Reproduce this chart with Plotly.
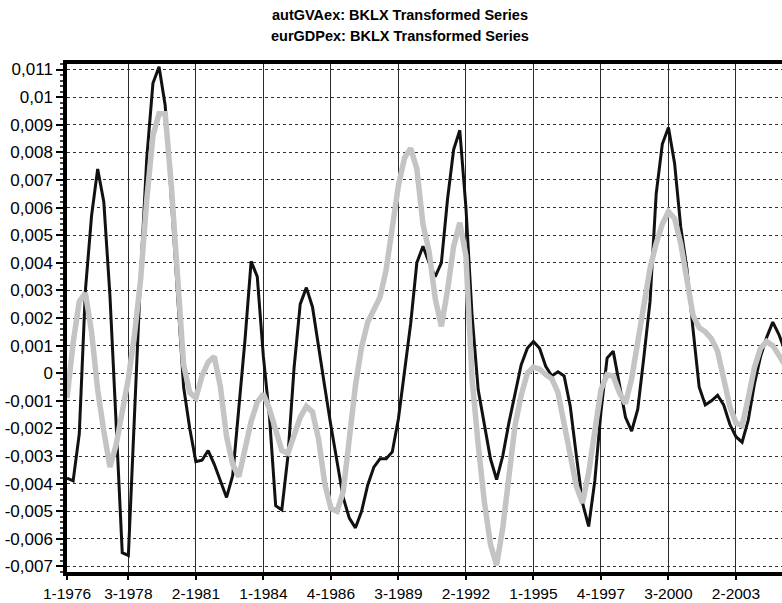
import plotly.graph_objects as go

# quarterly observations, first one is 1976 Q1
start_year = 1976
n_obs = 118
quarters = [f"{q % 4 + 1}-{start_year + q // 4}" for q in range(n_obs)]

# autGVAex (black line), units of 1e-3
aut_gva = [
    -3.8, -3.9, -2.2, 3.0, 5.7, 7.4, 6.2, 2.8, -1.8, -6.5,
    -6.6, -1.3, 3.6, 7.8, 10.5, 11.1, 9.7, 6.3, 2.9, -0.5,
    -2.0, -3.2, -3.15, -2.8, -3.3, -3.9, -4.5, -3.7, -1.2, 1.2,
    4.05, 3.5, 0.6, -1.6, -4.8, -4.95, -3.0, 0.2, 2.5, 3.1,
    2.4, 0.9, -0.5, -1.9, -3.2, -4.5, -5.25, -5.6, -5.0, -4.05,
    -3.4, -3.1, -3.1, -2.85, -1.65, 0.0, 1.8, 4.0, 4.6, 4.0,
    3.5, 4.0, 6.3, 8.1, 8.8, 6.0, 2.1, -0.6, -1.9, -3.1,
    -3.85, -3.0, -1.8, -0.7, 0.3, 0.9, 1.15, 0.9, 0.25, -0.1,
    0.05, -0.1, -1.2, -3.0, -4.7, -5.55, -3.9, -1.4, 0.55, 0.8,
    -0.45, -1.6, -2.1, -1.3, 0.6, 2.6, 6.5, 8.3, 8.9, 7.6,
    5.3, 3.8, 1.6, -0.5, -1.15, -1.0, -0.8, -1.15, -1.85, -2.3,
    -2.5, -1.7, -0.4, 0.6, 1.3, 1.85, 1.4, 0.8,
]

# eurGDPex (grey line), units of 1e-3
eur_gdp = [
    -0.9, 1.1, 2.6, 2.9, 1.5, -0.6, -2.1, -3.4, -2.6, -1.3,
    -0.2, 1.4, 3.4, 6.3, 8.6, 9.4, 9.4, 6.8, 3.6, 0.3,
    -0.7, -0.9, -0.1, 0.4, 0.6, -0.5, -2.3, -3.3, -3.75, -2.7,
    -1.75, -1.05, -0.75, -1.3, -2.1, -2.8, -2.9, -2.3, -1.6, -1.2,
    -1.4, -2.4, -4.0, -4.9, -5.0, -4.3, -2.4, -0.45, 0.95, 1.85,
    2.3, 2.75, 3.75, 5.45, 6.8, 7.8, 8.15, 7.4, 5.4, 4.4,
    2.7, 1.7, 3.0, 4.6, 5.45, 4.25, -0.2, -2.6, -4.65, -6.2,
    -6.95, -5.6, -3.6, -1.9, -0.8, 0.0, 0.22, 0.15, -0.05, -0.2,
    -0.7, -1.9, -3.1, -4.1, -4.7, -3.6, -2.1, -0.6, -0.05, -0.1,
    -0.7, -1.1, -0.2, 1.1, 2.3, 3.8, 4.7, 5.4, 5.85, 5.6,
    4.7, 3.3, 2.1, 1.65, 1.5, 1.25, 0.8, -0.2, -1.2, -1.8,
    -1.9, -0.9, 0.2, 0.9, 1.15, 1.0, 0.6, 0.3,
]

x_ticks = ["1-1976", "3-1978", "2-1981", "1-1984", "4-1986", "3-1989",
           "2-1992", "1-1995", "4-1997", "3-2000", "2-2003"]
y_tickvals = [0.011, 0.01, 0.009, 0.008, 0.007, 0.006, 0.005, 0.004, 0.003,
              0.002, 0.001, 0, -0.001, -0.002, -0.003, -0.004, -0.005,
              -0.006, -0.007]
y_ticktext = ["0,011", "0,01", "0,009", "0,008", "0,007", "0,006", "0,005",
              "0,004", "0,003", "0,002", "0,001", "0", "-0,001", "-0,002",
              "-0,003", "-0,004", "-0,005", "-0,006", "-0,007"]

FONT = "Liberation Sans, Arial, sans-serif"

fig = go.Figure()

fig.add_trace(go.Scatter(
    x=quarters, y=[v / 1000 for v in aut_gva],
    mode="lines", name="autGVAex",
    line=dict(color="#111111", width=3),
))
# grey series is drawn on top, it hides the black line where they cross
fig.add_trace(go.Scatter(
    x=quarters, y=[v / 1000 for v in eur_gdp],
    mode="lines", name="eurGDPex",
    line=dict(color="#c4c4c4", width=5.5),
))

fig.update_layout(
    width=782, height=603,
    showlegend=False,
    plot_bgcolor="white",
    paper_bgcolor="white",
    font=dict(family=FONT, size=16, color="black"),
    margin=dict(l=67, r=0, t=64, b=31),
    xaxis=dict(
        type="category",
        categoryorder="array", categoryarray=quarters,
        range=[0, 116.5],
        tickmode="array", tickvals=x_ticks, ticktext=x_ticks,
        ticks="outside", ticklen=4, tickwidth=1.5, tickcolor="black",
        showgrid=True, gridcolor="#2a2a2a", gridwidth=1,
        showline=True, linecolor="black", linewidth=4, mirror=True,
        tickfont=dict(size=15.5),
        automargin=False,
        zeroline=False,
    ),
    yaxis=dict(
        range=[-0.0072, 0.0112],
        tickmode="array", tickvals=y_tickvals, ticktext=y_ticktext,
        ticks="outside", ticklen=7, tickwidth=1.5, tickcolor="black",
        minor=dict(ticks="outside", dtick=0.0002, ticklen=3,
                   tickcolor="#444", showgrid=False),
        showgrid=True, gridcolor="#333333", gridwidth=1, griddash="dot",
        showline=True, linecolor="black", linewidth=3.5,
        tickfont=dict(size=17),
        automargin=False,
        zeroline=False,
    ),
    annotations=[
        dict(text="<b>autGVAex: BKLX Transformed Series</b>",
             xref="paper", yref="paper", x=0.4664, y=1.096,
             xanchor="center", yanchor="middle", showarrow=False,
             font=dict(size=14.5, family=FONT)),
        dict(text="<b>eurGDPex: BKLX Transformed Series</b>",
             xref="paper", yref="paper", x=0.4664, y=1.055,
             xanchor="center", yanchor="middle", showarrow=False,
             font=dict(size=14.5, family=FONT)),
    ],
)

# page body has a default 8px margin; drop it so the figure fills the window
fig.write_html("out.html", config={"displayModeBar": False},
               post_script="document.body.style.margin = '0';")
